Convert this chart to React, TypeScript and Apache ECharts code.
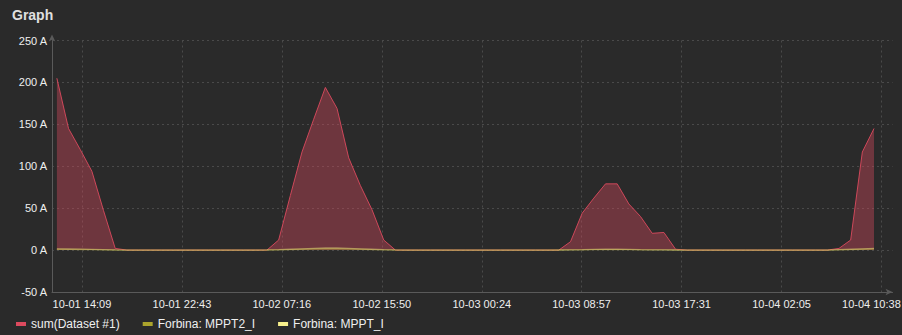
import React, { useEffect, useRef } from 'react';
import * as echarts from 'echarts';

const titleText = 'Graph';
const seriesNames = ['sum(Dataset #1)', 'Forbina: MPPT2_I', 'Forbina: MPPT_I'];
const seriesColors = ['#dc4a5e', '#aba42c', '#f7f08c'];

// hourly samples starting at this time
const startTime = '10-01 12:00';
const stepMinutes = 60;
const axisStart = '10-01 11:35';
const axisEnd = '10-04 11:35';

const sumValues = [
  205, 145, 120, 94, 47, 2,
  0, 0, 0, 0, 0, 0, 0, 0, 0, 0, 0, 0,
  0, 12, 65, 117, 156, 194, 169, 110, 77, 48, 12, 0,
  0, 0, 0, 0, 0, 0, 0, 0, 0, 0, 0, 0, 0,
  0, 10, 44, 62, 79, 79, 55, 40, 20, 21, 1,
  0, 0, 0, 0, 0, 0, 0, 0, 0, 0, 0, 0, 0,
  2, 12, 117, 145,
];

const mppt2Values = [
  1, 0.8, 0.7, 0.5, 0.3, 0.1,
  0, 0, 0, 0, 0, 0, 0, 0, 0, 0, 0, 0,
  0.1, 0.3, 0.6, 1, 1.3, 1.6, 1.6, 1.3, 1, 0.6, 0.3, 0.1,
  0, 0, 0, 0, 0, 0, 0, 0, 0, 0, 0, 0, 0,
  0.1, 0.2, 0.3, 0.5, 0.6, 0.6, 0.5, 0.3, 0.2, 0.2, 0.1,
  0, 0, 0, 0, 0, 0, 0, 0, 0, 0, 0, 0, 0,
  0.3, 0.6, 1, 1.3,
];

const mpptValues = [
  1.5, 1.3, 1.1, 0.8, 0.5, 0.2,
  0, 0, 0, 0, 0, 0, 0, 0, 0, 0, 0, 0,
  0.2, 0.5, 1, 1.5, 2, 2.5, 2.5, 2, 1.5, 1, 0.5, 0.2,
  0, 0, 0, 0, 0, 0, 0, 0, 0, 0, 0, 0, 0,
  0.1, 0.3, 0.5, 0.8, 1, 1, 0.8, 0.5, 0.3, 0.3, 0.1,
  0, 0, 0, 0, 0, 0, 0, 0, 0, 0, 0, 0, 0,
  0.5, 1, 1.5, 2,
];

const xTickLabels = [
  '10-01 14:09', '10-01 22:43', '10-02 07:16', '10-02 15:50', '10-03 00:24',
  '10-03 08:57', '10-03 17:31', '10-04 02:05', '10-04 10:38',
];

const yMin = -50;
const yMax = 250;
const yStep = 50;
const yUnit = 'A';

function toMinutes(s: string): number {
  const [d, t] = s.split(' ');
  const [, day] = d.split('-').map(Number);
  const [h, m] = t.split(':').map(Number);
  return (day - 1) * 1440 + h * 60 + m;
}

const FONT = '"Liberation Sans", Arial, Helvetica, sans-serif';
const TEXT = '#efefef';

export default function App() {
  const ref = useRef<HTMLDivElement>(null);

  useEffect(() => {
    if (!ref.current) return;
    const chart = echarts.init(ref.current, undefined, { renderer: 'svg' });
    const t0 = toMinutes(startTime);
    const times = sumValues.map((_, i) => t0 + i * stepMinutes);
    const tickValues = xTickLabels.map(toMinutes);
    const valueSets = [sumValues, mppt2Values, mpptValues];

    const series = seriesNames.map((name, si) => ({
      name,
      type: 'line',
      symbol: 'none',
      showSymbol: false,
      z: 2 + si,
      data: times.map((t, i) => [t, valueSets[si][i]]),
      itemStyle: { color: seriesColors[si] },
      lineStyle: { width: si === 0 ? 1 : 1.4, color: seriesColors[si], opacity: si === 0 ? 0.9 : 0.42 },
      areaStyle: { color: seriesColors[si], opacity: si === 0 ? 0.38 : 0.1 },
    }));

    chart.setOption({
      animation: false,
      backgroundColor: '#2a2a2a',
      textStyle: { fontFamily: FONT },
      title: {
        text: titleText,
        left: 7,
        top: 3,
        textStyle: { color: '#e0e0e0', fontSize: 14, fontWeight: 'bold', fontFamily: FONT },
      },
      legend: {
        left: 11,
        top: 313,
        icon: 'rect',
        itemWidth: 10,
        itemHeight: 4,
        itemGap: 23,
        data: seriesNames,
        textStyle: { color: TEXT, fontSize: 12, fontFamily: FONT },
      },
      grid: {
        left: 52,
        right: 9.5,
        top: 40.5,
        bottom: 43,
        containLabel: false,
        outerBoundsMode: 'none',
      },
      xAxis: {
        type: 'value',
        min: toMinutes(axisStart),
        max: toMinutes(axisEnd),
        axisLine: {
          show: true,
          onZero: false,
          lineStyle: { color: '#5a5a5a', width: 1 },
          symbol: ['none', 'arrow'],
          symbolSize: [5, 7],
        },
        axisTick: { show: false, customValues: tickValues },
        axisLabel: {
          customValues: tickValues,
          color: TEXT,
          fontSize: 11,
          fontFamily: FONT,
          margin: 6,
          formatter: (v: number) => {
            let idx = 0;
            let best = Infinity;
            tickValues.forEach((tv, i) => {
              if (Math.abs(tv - v) < best) { best = Math.abs(tv - v); idx = i; }
            });
            const lbl = xTickLabels[idx];
            return idx === xTickLabels.length - 1 ? lbl + '{sp|}' : lbl;
          },
          rich: { sp: { width: 20 } },
        },
        splitLine: { show: true, lineStyle: { color: '#4a4a4a', type: [2, 3], width: 1 } },
      },
      yAxis: {
        type: 'value',
        min: yMin,
        max: yMax,
        interval: yStep,
        axisLine: {
          show: true,
          onZero: false,
          lineStyle: { color: '#5a5a5a', width: 1 },
          symbol: ['none', 'arrow'],
          symbolSize: [5, 7],
          symbolOffset: [0, 6],
        },
        axisTick: { show: false },
        axisLabel: {
          color: TEXT,
          fontSize: 11,
          fontFamily: FONT,
          margin: 5,
          formatter: (v: number) => `${v} ${yUnit}`,
        },
        splitLine: { show: true, lineStyle: { color: '#4a4a4a', type: [2, 3], width: 1 } },
      },
      series,
    });
    return () => chart.dispose();
  }, []);

  return (
    <div
      ref={ref}
      style={{ position: 'absolute', left: 0, top: 0, width: 902, height: 335 }}
    />
  );
}
